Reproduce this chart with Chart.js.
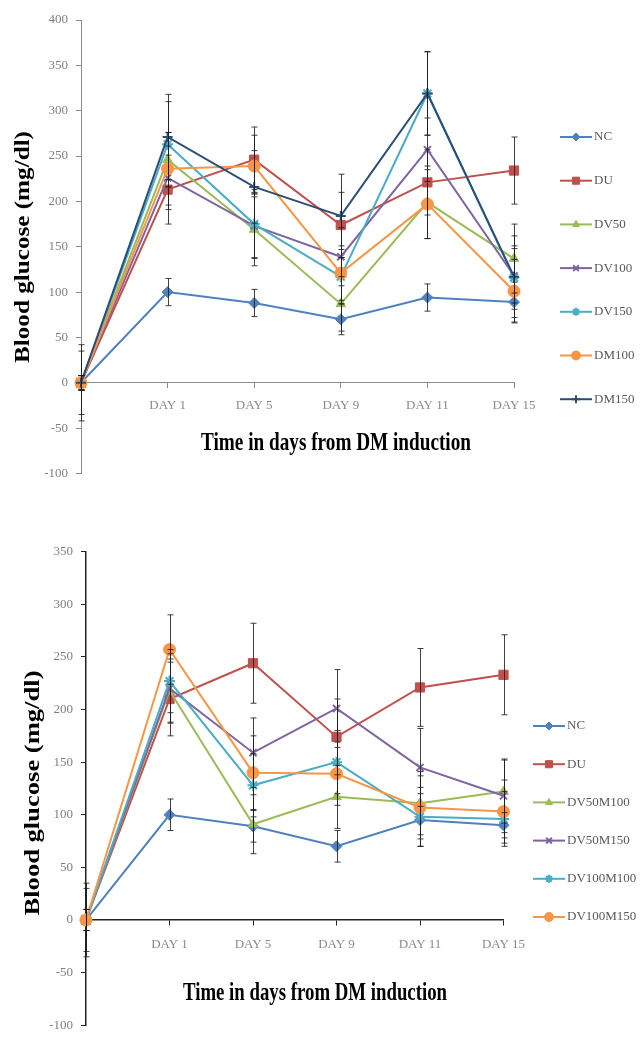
<!DOCTYPE html>
<html><head><meta charset="utf-8">
<script src="https://cdn.jsdelivr.net/npm/chart.js@4.4.1/dist/chart.umd.min.js"></script>
<style>
html,body{margin:0;padding:0;background:#fff;width:643px;height:1041px;overflow:hidden}
#c1{position:absolute;left:0;top:0}
#c2{position:absolute;left:0;top:500px}
</style></head><body>
<canvas id="c1" width="643" height="500"></canvas>
<canvas id="c2" width="643" height="541"></canvas>
<script>
// ---------- data ----------
const dayLabels = ['', 'DAY 1', 'DAY 5', 'DAY 9', 'DAY 11', 'DAY 15'];
const topYTicks = [-100, -50, 0, 50, 100, 150, 200, 250, 300, 350, 400];
const bottomYTicks = [-100, -50, 0, 50, 100, 150, 200, 250, 300, 350];

// top chart
const topNames = ['NC', 'DU', 'DV50', 'DV100', 'DV150', 'DM100', 'DM150'];
const topNC    = [0, 100, 88, 70, 94, 89];
const topDU    = [0, 213, 246, 174, 221, 234];
const topDV50  = [0, 246, 169, 87, 199, 137];
const topDV100 = [0, 226, 173, 139, 257, 118];
const topDV150 = [0, 263, 175, 117, 319, 116];
const topDM100 = [0, 236, 239, 121, 197, 101];
const topDM150 = [0, 271, 216, 184, 319, 117];
// top chart error bars (± SD)
const topErrNC    = [42, 15, 15, 17, 15, 22];
const topErrDU    = [35, 38, 36, 36, 36, 37];
const topErrDV50  = [8, 30, 40, 30, 40, 38];
const topErrDV100 = [8, 35, 35, 32, 35, 30];
const topErrDV150 = [8, 47, 38, 30, 46, 35];
const topErrDM100 = [8, 40, 34, 30, 38, 35];
const topErrDM150 = [8, 47, 40, 46, 46, 45];

// bottom chart
const botNames = ['NC', 'DU', 'DV50M100', 'DV50M150', 'DV100M100', 'DV100M150'];
const botNC        = [0, 100, 89, 70, 95, 90];
const botDU        = [0, 210, 244, 174, 221, 233];
const botDV50M100  = [0, 218, 91, 117, 111, 122];
const botDV50M150  = [0, 220, 159, 201, 145, 118];
const botDV100M100 = [0, 227, 128, 150, 98, 96];
const botDV100M150 = [0, 257, 140, 139, 107, 103];
// bottom chart error bars (± SD)
const botErrNC        = [35, 15, 15, 15, 25, 12];
const botErrDU        = [30, 35, 38, 36, 37, 38];
const botErrDV50M100  = [10, 30, 28, 30, 30, 30];
const botErrDV50M150  = [10, 33, 33, 37, 37, 35];
const botErrDV100M100 = [10, 30, 30, 30, 28, 26];
const botErrDV100M150 = [10, 33, 35, 30, 30, 30];

// ---------- styles ----------
const SERIF = "'Liberation Serif', 'Times New Roman', serif";
const topColors = ['#4F81BD', '#C0504D', '#9BBB59', '#8064A2', '#4BACC6', '#F79646', '#2C4D75'];
const topStyles = ['rectRot', 'rect', 'triangle', 'crossRot', 'star', 'circle', 'cross'];
const botColors = ['#4F81BD', '#C0504D', '#9BBB59', '#8064A2', '#4BACC6', '#F79646'];
const botStyles = ['rectRot', 'rect', 'triangle', 'crossRot', 'star', 'circle'];
const styleRadius = {rectRot: 5.5, rect: 6.5, triangle: 5.5, crossRot: 5, star: 5.5, circle: 6, cross: 5};
const legendRadius = {rectRot: 4, rect: 5, triangle: 4, crossRot: 4, star: 4, circle: 4.5, cross: 4};

function makeDatasets(names, series, errs, colors, styles) {
  return names.map((n, i) => ({
    label: n,
    data: series[i],
    errorBars: errs[i],
    borderColor: colors[i],
    backgroundColor: colors[i],
    pointBackgroundColor: colors[i],
    pointBorderColor: colors[i],
    pointStyle: styles[i],
    pointRadius: styleRadius[styles[i]],
    pointBorderWidth: (styles[i] === 'crossRot' || styles[i] === 'star' || styles[i] === 'cross') ? 2 : 1,
    borderWidth: 2,
    tension: 0,
    clip: false,
    order: names.length - i
  }));
}

const errorBarPlugin = {
  id: 'errorBarsCustom',
  afterDatasetsDraw(chart) {
    const ctx = chart.ctx, ys = chart.scales.y;
    ctx.save();
    ctx.strokeStyle = 'rgba(30,30,30,0.85)';
    ctx.lineWidth = 1;
    chart.data.datasets.forEach((ds, i) => {
      const meta = chart.getDatasetMeta(i);
      meta.data.forEach((pt, j) => {
        const v = ds.data[j], e = ds.errorBars[j];
        const y1 = ys.getPixelForValue(v + e), y2 = ys.getPixelForValue(v - e);
        const x = Math.round(pt.x) + 0.5;
        ctx.beginPath();
        ctx.moveTo(x, y1); ctx.lineTo(x, y2);
        ctx.moveTo(x - 3, y1); ctx.lineTo(x + 3, y1);
        ctx.moveTo(x - 3, y2); ctx.lineTo(x + 3, y2);
        ctx.stroke();
      });
    });
    ctx.restore();
  }
};

function legendPlugin(cfg) {
  return {
    id: 'lineLegend',
    afterDraw(chart) {
      const ctx = chart.ctx;
      ctx.save();
      chart.data.datasets.forEach((ds, i) => {
        const y = cfg.y0 + i * cfg.gap;
        ctx.strokeStyle = ds.borderColor;
        ctx.fillStyle = ds.borderColor;
        ctx.lineWidth = 2;
        ctx.beginPath();
        ctx.moveTo(cfg.x, y); ctx.lineTo(cfg.x + cfg.len, y);
        ctx.stroke();
        ctx.lineWidth = ds.pointBorderWidth;
        Chart.helpers.drawPoint(ctx, {pointStyle: ds.pointStyle, rotation: 0, radius: legendRadius[ds.pointStyle], borderWidth: ds.pointBorderWidth}, cfg.x + cfg.len / 2, y);
        ctx.fillStyle = '#595959';
        ctx.font = cfg.font;
        ctx.textAlign = 'left';
        ctx.textBaseline = 'middle';
        ctx.fillText(ds.label, cfg.x + cfg.len + 2, y);
      });
      ctx.restore();
    }
  };
}

function drawStretched(ctx, text, cx, cy, width, font, rotate) {
  ctx.save();
  ctx.font = font;
  ctx.fillStyle = '#000';
  ctx.textAlign = 'center';
  ctx.textBaseline = 'middle';
  const w = ctx.measureText(text).width;
  ctx.translate(cx, cy);
  if (rotate) ctx.rotate(-Math.PI / 2);
  ctx.scale(width / w, 1);
  ctx.fillText(text, 0, 0);
  ctx.restore();
}

function titlesPlugin(cfg) {
  return {
    id: 'axisTitlesCustom',
    afterDraw(chart) {
      const ctx = chart.ctx;
      drawStretched(ctx, cfg.xText, cfg.xcx, cfg.xcy, cfg.xw, 'bold 25px ' + SERIF, false);
      drawStretched(ctx, cfg.yText, cfg.ycx, cfg.ycy, cfg.yw, 'bold 20px ' + SERIF, true);
    }
  };
}

function makeOptions(cfg) {
  return {
    responsive: false,
    animation: false,
    devicePixelRatio: 1,
    layout: {padding: cfg.padding},
    plugins: {legend: {display: false}, tooltip: {enabled: false}},
    scales: {
      x: {
        type: 'category',
        position: {y: 0},
        offset: false,
        border: {display: true, color: cfg.axisColor, width: cfg.axisWidth},
        grid: {display: true, drawOnChartArea: false, drawTicks: true, tickLength: 5, color: cfg.axisColor},
        ticks: {color: '#8a8a8a', font: {family: SERIF, size: 13}, padding: cfg.xPad, maxRotation: 0, autoSkip: false}
      },
      y: {
        type: 'linear',
        position: 'left',
        min: cfg.yTicks[0],
        max: cfg.yTicks[cfg.yTicks.length - 1],
        afterBuildTicks: s => { s.ticks = cfg.yTicks.map(v => ({value: v})); },
        afterFit: s => { s.width = cfg.yWidth; },
        border: {display: true, color: cfg.axisColor, width: cfg.axisWidth},
        grid: {display: true, drawOnChartArea: false, drawTicks: true, tickLength: 5, color: cfg.axisColor},
        ticks: {color: '#7f7f7f', font: {family: SERIF, size: 13}, padding: 8}
      }
    }
  };
}

Chart.defaults.font.family = SERIF;

new Chart(document.getElementById('c1'), {
  type: 'line',
  data: {
    labels: dayLabels,
    datasets: makeDatasets(topNames,
      [topNC, topDU, topDV50, topDV100, topDV150, topDM100, topDM150],
      [topErrNC, topErrDU, topErrDV50, topErrDV100, topErrDV150, topErrDM100, topErrDM150],
      topColors, topStyles)
  },
  options: makeOptions({padding: {left: 0, top: 20, right: 129, bottom: 26.5}, yTicks: topYTicks, yWidth: 81, axisColor: '#8c8c8c', axisWidth: 1, xPad: 10}),
  plugins: [errorBarPlugin,
    legendPlugin({x: 560, y0: 137, gap: 43.7, len: 32, font: '13px ' + SERIF}),
    titlesPlugin({xText: 'Time in days from DM induction', xcx: 336, xcy: 444, xw: 270,
                  yText: 'Blood glucose (mg/dl)', ycx: 24, ycy: 247, yw: 232})]
});

new Chart(document.getElementById('c2'), {
  type: 'line',
  data: {
    labels: dayLabels,
    datasets: makeDatasets(botNames,
      [botNC, botDU, botDV50M100, botDV50M150, botDV100M100, botDV100M150],
      [botErrNC, botErrDU, botErrDV50M100, botErrDV50M150, botErrDV100M100, botErrDV100M150],
      botColors, botStyles)
  },
  options: makeOptions({padding: {left: 0, top: 51.7, right: 139.5, bottom: 7.5}, yTicks: bottomYTicks, yWidth: 86, axisColor: '#222222', axisWidth: 1.5, xPad: 12}),
  plugins: [errorBarPlugin,
    legendPlugin({x: 533, y0: 226, gap: 38.2, len: 32, font: '13px ' + SERIF}),
    titlesPlugin({xText: 'Time in days from DM induction', xcx: 315, xcy: 494, xw: 264,
                  yText: 'Blood glucose (mg/dl)', ycx: 34, ycy: 293, yw: 245})]
});
</script>
</body></html>
